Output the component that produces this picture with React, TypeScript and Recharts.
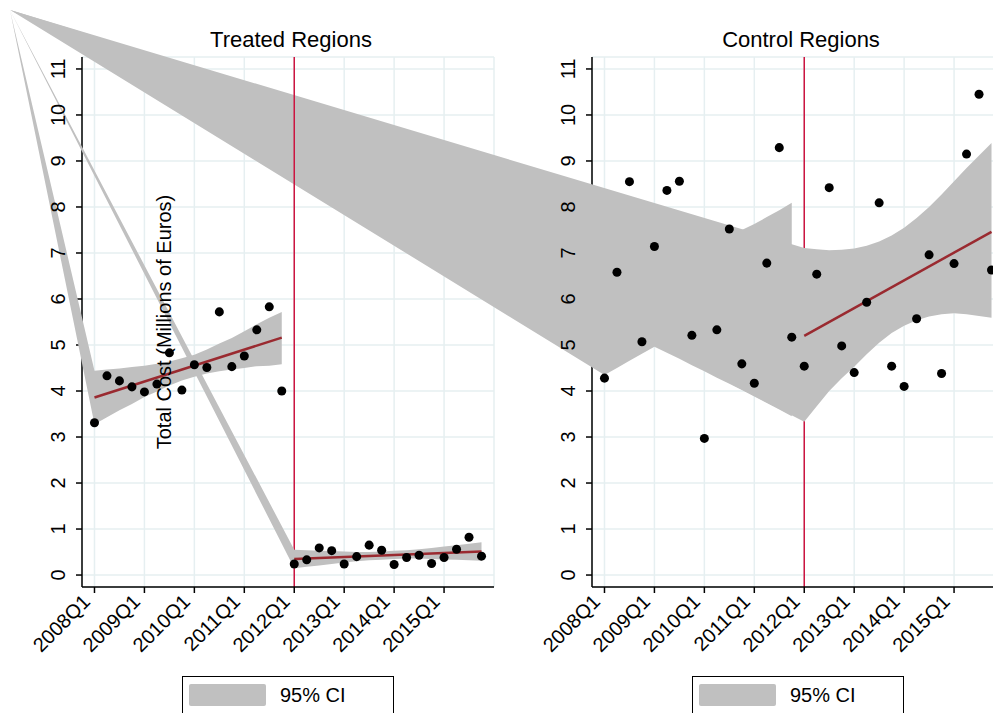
import React from 'react';
import { ComposedChart, XAxis, YAxis, CartesianGrid, Scatter, ReferenceLine } from 'recharts';

// quarter index: 0 = 2008Q1 ... 31 = 2015Q4
const preQuarters = [0, 1, 2, 3, 4, 5, 6, 7, 8, 9, 10, 11, 12, 13, 14, 15];
const postQuarters = [16, 17, 18, 19, 20, 21, 22, 23, 24, 25, 26, 27, 28, 29, 30, 31];
const yearTicks = [0, 4, 8, 12, 16, 20, 24, 28];
const yearLabels = ['2008Q1', '2009Q1', '2010Q1', '2011Q1', '2012Q1', '2013Q1', '2014Q1', '2015Q1'];
const valueTicks = [0, 1, 2, 3, 4, 5, 6, 7, 8, 9, 10, 11];
const cutoffQuarter = 16;

// treated regions
const treatedPre = [3.31, 4.33, 4.22, 4.09, 3.98, 4.15, 4.83, 4.02, 4.57, 4.51, 5.72, 4.53, 4.76, 5.33, 5.83, 4.0];
const treatedPost = [0.24, 0.33, 0.59, 0.53, 0.24, 0.4, 0.65, 0.54, 0.23, 0.38, 0.43, 0.25, 0.38, 0.56, 0.82, 0.41];
const treatedPreFit = [3.86, 5.16];
const treatedPostFit = [0.35, 0.51];
const treatedPreUpper = [4.44, 4.47, 4.49, 4.52, 4.55, 4.59, 4.64, 4.71, 4.79, 4.9, 5.03, 5.15, 5.3, 5.45, 5.59, 5.72];
const treatedPreLower = [3.28, 3.43, 3.58, 3.72, 3.87, 3.99, 4.12, 4.23, 4.31, 4.38, 4.43, 4.47, 4.5, 4.54, 4.55, 4.58];
const treatedPostUpper = [0.55, 0.54, 0.53, 0.52, 0.51, 0.5, 0.5, 0.51, 0.53, 0.54, 0.56, 0.59, 0.62, 0.65, 0.68, 0.71];
const treatedPostLower = [0.15, 0.18, 0.21, 0.24, 0.27, 0.3, 0.32, 0.33, 0.35, 0.36, 0.36, 0.35, 0.34, 0.33, 0.32, 0.31];

// control regions
const controlPre = [4.28, 6.58, 8.55, 5.07, 7.14, 8.36, 8.56, 5.21, 2.97, 5.33, 7.52, 4.59, 4.17, 6.78, 9.29, 5.17];
const controlPost = [4.54, 6.54, 8.42, 4.98, 4.4, 5.93, 8.09, 4.54, 4.1, 5.57, 6.96, 4.38, 6.77, 9.15, 10.45, 6.63];
const controlPostFit = [5.2, 7.46];
const controlPreUpper = [8.3, 8.22, 8.14, 8.07, 7.99, 7.92, 7.85, 7.78, 7.71, 7.64, 7.57, 7.5, 7.63, 7.78, 7.93, 8.09];
const controlPreLower = [4.35, 4.5, 4.66, 4.81, 4.96, 4.83, 4.7, 4.56, 4.43, 4.29, 4.16, 4.02, 3.88, 3.74, 3.6, 3.45];
const controlPostUpper = [7.11, 7.08, 7.06, 7.07, 7.1, 7.16, 7.25, 7.38, 7.55, 7.76, 8.0, 8.27, 8.56, 8.85, 9.12, 9.39];
const controlPostLower = [3.33, 3.67, 4.0, 4.28, 4.53, 4.8, 5.05, 5.26, 5.42, 5.54, 5.62, 5.67, 5.69, 5.67, 5.63, 5.59];

// the stray corner every CI polygon is tied to (in each panel's own data units)
const treatedAnchor = { q: -6.77, v: 12.28 };
const controlAnchor = { q: -47.6, v: 12.28 };

type Pt = { q: number; v: number };

const toPoints = (qs: number[], vs: number[]): Pt[] => qs.map((q, i) => ({ q, v: vs[i] }));
const toBand = (anchor: Pt, qs: number[], upper: number[], lower: number[]): Pt[] => [
  anchor,
  ...toPoints(qs, upper),
  ...toPoints(qs, lower).reverse(),
];
const toFit = (qs: number[], fit: number[]): Pt[] => [
  { q: qs[0], v: fit[0] },
  { q: qs[qs.length - 1], v: fit[1] },
];

const FONT = '"Liberation Sans", Arial, Helvetica, sans-serif';
const BAND = '#c0c0c0';
const GRID = '#e6eff1';
const RED = '#cc1440';
const FIT = '#9a2a30';

const W = 510;
const H = 713;
const MARGIN = { top: 57, right: 16, bottom: 40, left: 22 };

const noDot = () => <g />;

const pathOf = (pts: any[]) => pts.map((p: any, i: number) => `${i ? 'L' : 'M'}${p.x},${p.y}`).join(' ');

const renderBand = (props: any) => {
  const pts = props.points || [];
  if (!pts.length) return <g />;
  return <path d={pathOf(pts) + ' Z'} fill={BAND} stroke="none" />;
};

const renderFit = (props: any) => {
  const pts = props.points || [];
  if (!pts.length) return <g />;
  return <path d={pathOf(pts)} fill="none" stroke={FIT} strokeWidth={2.5} />;
};

const xTick = (marks: boolean) => (props: any) => {
  const { x, y, payload } = props;
  if (!marks) return <g />;
  const label = yearLabels[yearTicks.indexOf(payload.value)];
  const tx = x - 3;
  return (
    <text x={tx} y={y} transform={`rotate(-45, ${tx}, ${y})`} textAnchor="end" fontSize={20} fontFamily={FONT} fill="#000">
      {label}
    </text>
  );
};

const yTick = (marks: boolean) => (props: any) => {
  const { x, y, payload } = props;
  if (!marks) return <g />;
  return (
    <text x={x} y={y} transform={`rotate(-90, ${x}, ${y})`} textAnchor="middle" fontSize={20} fontFamily={FONT} fill="#000">
      {payload.value}
    </text>
  );
};

function Panel({ bands, fits, dots, grid, marks }: { bands: Pt[][]; fits: Pt[][]; dots: Pt[]; grid: boolean; marks: boolean }) {
  const axisLine = marks ? { stroke: '#000', strokeWidth: 1.5 } : false;
  const tickLine = marks ? { stroke: '#000', strokeWidth: 1.5 } : false;
  return (
    <ComposedChart width={W} height={H} margin={MARGIN}>
      {grid && <CartesianGrid stroke={GRID} strokeWidth={1.5} />}
      <XAxis
        type="number"
        dataKey="q"
        domain={[-1, 32]}
        allowDataOverflow
        ticks={yearTicks}
        interval={0}
        height={86}
        tickSize={6}
        tickMargin={10}
        axisLine={axisLine}
        tickLine={tickLine}
        tick={xTick(marks)}
      />
      <YAxis
        type="number"
        dataKey="v"
        domain={[-0.26, 11.26]}
        allowDataOverflow
        ticks={valueTicks}
        interval={0}
        width={60}
        tickSize={6}
        tickMargin={11}
        axisLine={axisLine}
        tickLine={tickLine}
        tick={yTick(marks)}
      />
      {marks && <ReferenceLine x={cutoffQuarter} stroke={RED} strokeWidth={1.5} />}
      {marks &&
        bands.map((b, i) => (
          <Scatter key={'band' + i} data={b} shape={noDot} line={renderBand} isAnimationActive={false} legendType="none" />
        ))}
      {marks &&
        fits.map((f, i) => (
          <Scatter key={'fit' + i} data={f} shape={noDot} line={renderFit} isAnimationActive={false} legendType="none" />
        ))}
      {marks && <Scatter data={dots} fill="#000" isAnimationActive={false} />}
    </ComposedChart>
  );
}

function LegendBox({ left }: { left: number }) {
  return (
    <div style={{ position: 'absolute', left, top: 676, width: 212, height: 50, border: '1.5px solid #000', boxSizing: 'border-box', background: '#fff', zIndex: 4 }}>
      <div style={{ position: 'absolute', left: 6, top: 7, width: 77, height: 22, background: BAND, borderRadius: 2 }} />
      <div style={{ position: 'absolute', left: 97, top: 7, fontSize: 20, lineHeight: '22px', color: '#000' }}>95% CI</div>
    </div>
  );
}

function Title({ text, center }: { text: string; center: number }) {
  return (
    <div style={{ position: 'absolute', left: center - 150, top: 29, width: 300, textAlign: 'center', fontSize: 22, lineHeight: '22px', color: '#000', zIndex: 4 }}>
      {text}
    </div>
  );
}

export default function App() {
  const treatedBands = [
    toBand(treatedAnchor, preQuarters, treatedPreUpper, treatedPreLower),
    toBand(treatedAnchor, postQuarters, treatedPostUpper, treatedPostLower),
  ];
  const treatedFits = [toFit(preQuarters, treatedPreFit), toFit(postQuarters, treatedPostFit)];
  const treatedDots = [...toPoints(preQuarters, treatedPre), ...toPoints(postQuarters, treatedPost)];

  const controlBands = [
    toBand(controlAnchor, preQuarters, controlPreUpper, controlPreLower),
    toBand(controlAnchor, postQuarters, controlPostUpper, controlPostLower),
  ];
  const controlFits = [toFit(postQuarters, controlPostFit)];
  const controlDots = [...toPoints(preQuarters, controlPre), ...toPoints(postQuarters, controlPost)];

  return (
    <div style={{ position: 'fixed', left: 0, top: 0, width: 993, height: 713, overflow: 'hidden', background: '#fff', fontFamily: FONT }}>
      <style>{`.recharts-surface{overflow:visible} .recharts-scatter, .recharts-layer[clip-path], g[clip-path]{clip-path:none !important}`}</style>
      <div style={{ position: 'absolute', left: 0, top: 0, zIndex: 1 }}>
        <Panel bands={treatedBands} fits={treatedFits} dots={treatedDots} grid marks={false} />
      </div>
      <div style={{ position: 'absolute', left: 510, top: 0, zIndex: 2 }}>
        <Panel bands={controlBands} fits={controlFits} dots={controlDots} grid marks />
      </div>
      <div style={{ position: 'absolute', left: 0, top: 0, zIndex: 3 }}>
        <Panel bands={treatedBands} fits={treatedFits} dots={treatedDots} grid={false} marks />
      </div>
      <Title text="Treated Regions" center={291} />
      <Title text="Control Regions" center={801} />
      <div
        style={{
          position: 'absolute',
          left: 164,
          top: 322,
          transform: 'translate(-50%, -50%) rotate(-90deg)',
          whiteSpace: 'nowrap',
          fontSize: 20,
          lineHeight: '20px',
          color: '#000',
          zIndex: 4,
        }}
      >
        Total Cost (Millions of Euros)
      </div>
      <LegendBox left={182} />
      <LegendBox left={692} />
    </div>
  );
}
